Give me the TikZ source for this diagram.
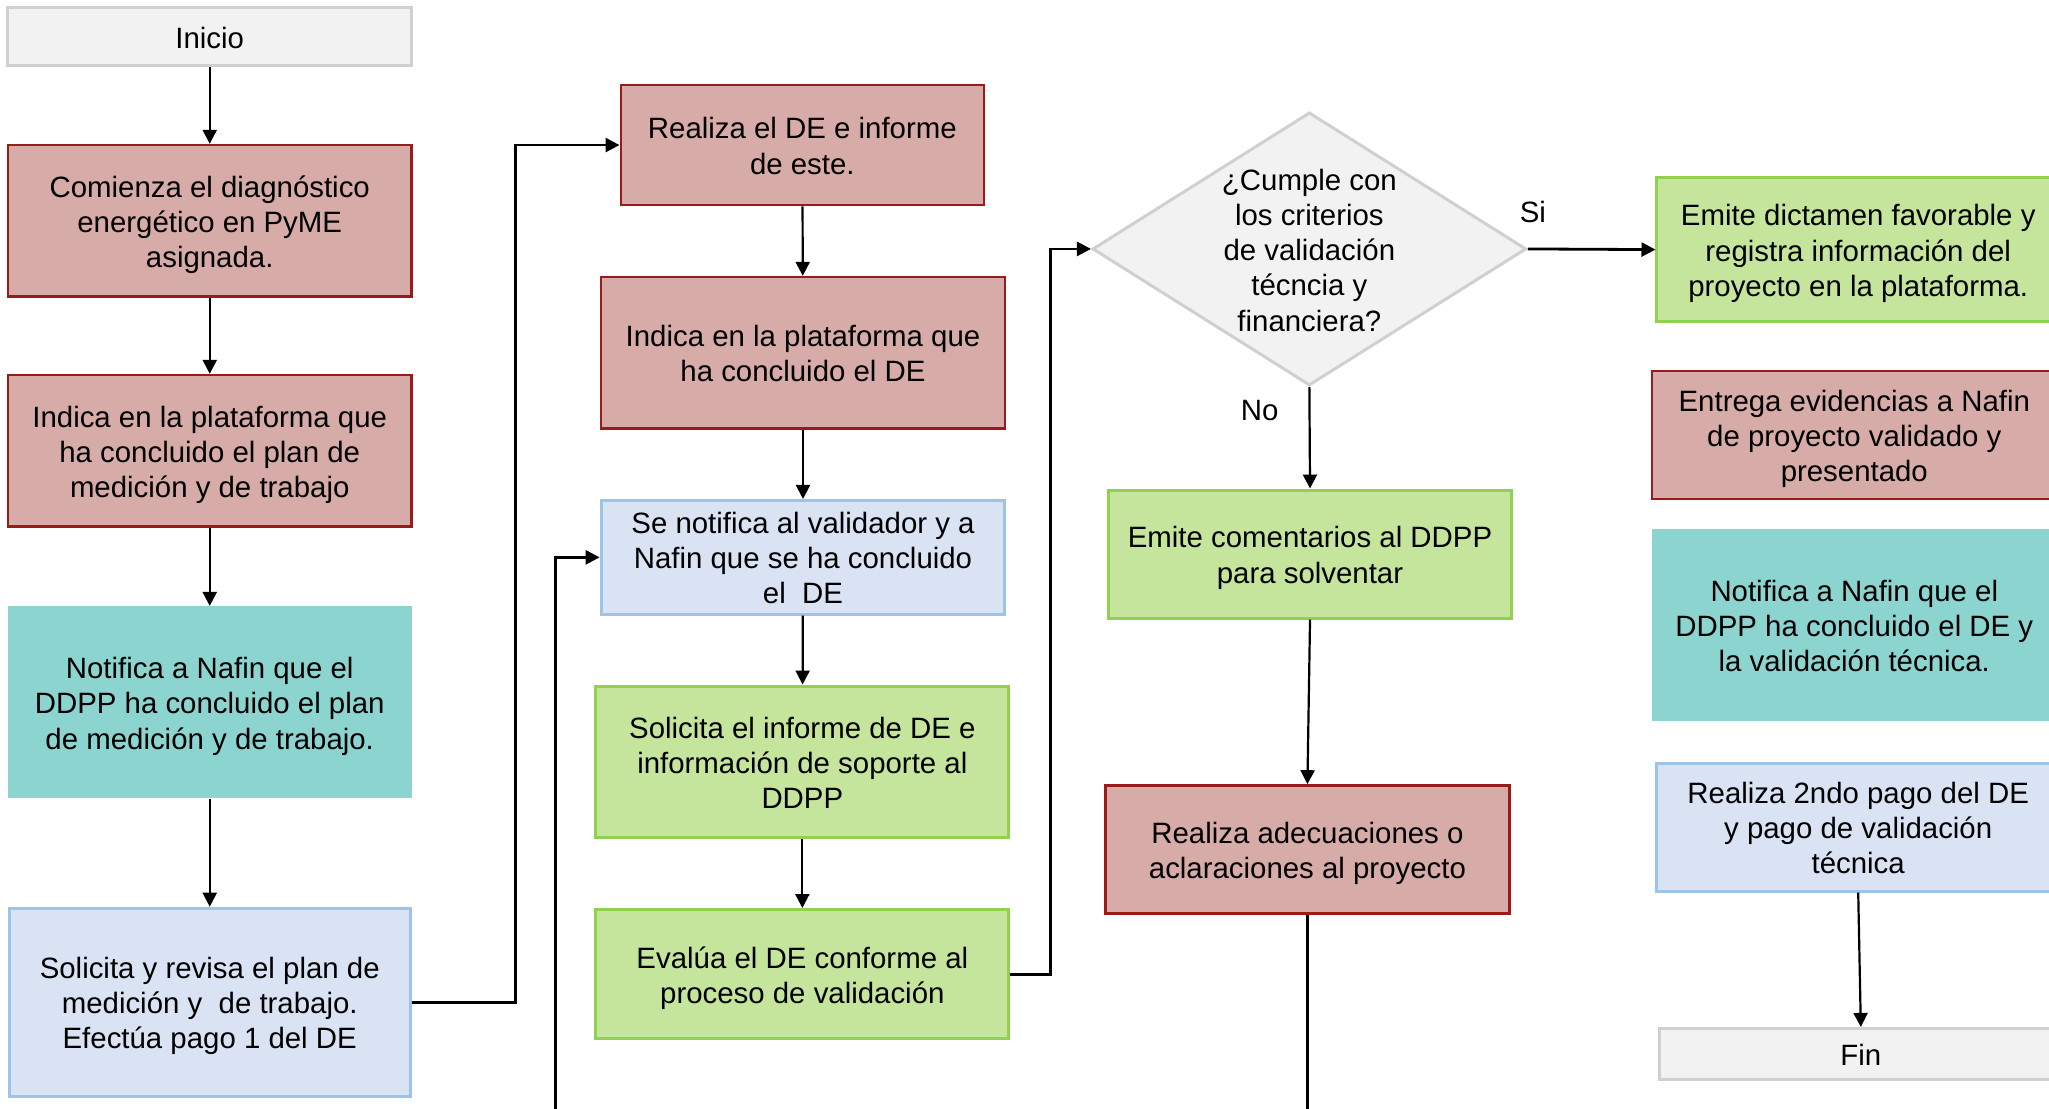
\documentclass[tikz,border=0pt]{standalone}
\usepackage{fontspec}
\setmainfont{Liberation Sans}
\usetikzlibrary{shapes.geometric,arrows.meta,calc}
\definecolor{redfill}{RGB}{214,171,168}
\definecolor{redline}{RGB}{155,27,27}
\definecolor{bluefill}{RGB}{218,227,243}
\definecolor{blueline}{RGB}{157,195,230}
\definecolor{greenfill}{RGB}{197,228,156}
\definecolor{greenline}{RGB}{146,208,80}
\definecolor{tealfill}{RGB}{140,212,207}
\definecolor{greyfill}{RGB}{242,242,242}
\definecolor{greyline}{RGB}{208,208,208}
\newlength\pxu
\setlength\pxu{0.6534pt}
\newcommand\diafont{\fontsize{14.7}{17.6}\selectfont}
\newcommand\boxtext[1]{\raisebox{-2.2pt}[\height][\depth]{\begin{tabular}{@{}c@{}}#1\end{tabular}}}
\tikzset{
  base/.style={rectangle, inner sep=0pt, font=\diafont},
  redbox/.style={base, fill=redfill, draw=redline, line width=1.2pt},
  bluebox/.style={base, fill=bluefill, draw=blueline, line width=1.5pt},
  greenbox/.style={base, fill=greenfill, draw=greenline, line width=1.5pt},
  tealbox/.style={base, fill=tealfill},
  greybox/.style={base, fill=greyfill, draw=greyline, line width=1.5pt},
  arr/.style={line width=1.1pt, -{Triangle[length=7pt,width=7pt]}},
  elbow/.style={line width=1.4pt, -{Triangle[length=7pt,width=7pt]}},
  plainline/.style={line width=1.1pt},
  lbl/.style={font=\diafont, inner sep=0pt}
}
\begin{document}
\begin{tikzpicture}[x=0.6534pt,y=-0.6534pt]
\useasboundingbox (0,0) rectangle (1568,848);
\clip (0,0) rectangle (1568,848);
% left column
\node[greybox, minimum width=309\pxu, minimum height=44\pxu] (inicio) at (160.5,28) {\boxtext{Inicio}};
\node[redbox, minimum width=309\pxu, minimum height=116\pxu] (comienza) at (160.5,169) {\boxtext{Comienza el diagnóstico\\energético en PyME\\asignada.}};
\node[redbox, minimum width=309\pxu, minimum height=116\pxu] (indplan) at (160.5,345) {\boxtext{Indica en la plataforma que\\ha concluido el plan de\\medición y de trabajo}};
\node[tealbox, minimum width=309\pxu, minimum height=147\pxu] (notif1) at (160.5,537.5) {\boxtext{Notifica a Nafin que el\\DDPP ha concluido el plan\\de medición y de trabajo.}};
\node[bluebox, minimum width=307\pxu, minimum height=144\pxu] (solrev) at (160.5,767) {\boxtext{Solicita y revisa el plan de\\medición y~ de trabajo.\\Efectúa pago 1 del DE}};
% second column
\node[redbox, minimum width=278\pxu, minimum height=92\pxu] (realiza) at (614,111) {\boxtext{Realiza el DE e informe\\de este.}};
\node[redbox, minimum width=309\pxu, minimum height=116\pxu] (indde) at (614.5,270) {\boxtext{Indica en la plataforma que\\ha concluido el DE}};
\node[bluebox, minimum width=309\pxu, minimum height=87\pxu] (senot) at (614.5,426.5) {\boxtext{Se notifica al validador y a\\Nafin que se ha concluido\\el~ DE}};
\node[greenbox, minimum width=316\pxu, minimum height=116\pxu] (solinf) at (614,583) {\boxtext{Solicita el informe de DE e\\información de soporte al\\DDPP}};
\node[greenbox, minimum width=316\pxu, minimum height=99\pxu] (evalua) at (614,745.5) {\boxtext{Evalúa el DE conforme al\\proceso de validación}};
% decision column
\node[diamond, fill=greyfill, draw=greyline, line width=1.5pt, inner sep=0pt, minimum width=332\pxu, minimum height=209\pxu] (dia) at (1002,190.5) {};
\node[lbl, align=center] (diatext) at (1002,191.5) {¿Cumple con\\los criterios\\de validación\\técncia y\\financiera?};
\node[greenbox, minimum width=309\pxu, minimum height=98\pxu] (coment) at (1002.5,424) {\boxtext{Emite comentarios al DDPP\\para solventar}};
\node[redbox, minimum width=309\pxu, minimum height=98\pxu] (adec) at (1000.5,650) {\boxtext{Realiza adecuaciones o\\aclaraciones al proyecto}};
% right column
\node[greenbox, minimum width=308\pxu, minimum height=110\pxu] (dictamen) at (1422,191) {\boxtext{Emite dictamen favorable y\\registra información del\\proyecto en la plataforma.}};
\node[redbox, minimum width=310\pxu, minimum height=98\pxu] (entrega) at (1419,333) {\boxtext{Entrega evidencias a Nafin\\de proyecto validado y\\presentado}};
\node[tealbox, minimum width=310\pxu, minimum height=147\pxu] (notif2) at (1419,478.5) {\boxtext{Notifica a Nafin que el\\DDPP ha concluido el DE y\\la validación técnica.}};
\node[bluebox, minimum width=308\pxu, minimum height=98\pxu] (pago2) at (1422,633) {\boxtext{Realiza 2ndo pago del DE\\y pago de validación\\técnica}};
\node[greybox, minimum width=308\pxu, minimum height=39\pxu] (fin) at (1424,806.5) {\boxtext{Fin}};
% labels
\node[lbl] (si) at (1173,162) {Si};
\node[lbl] (no) at (964,314) {No};
% free ends
\coordinate (loopin) at (425,860);
\coordinate (adout) at (1000.5,860);
% connectors
\draw[arr] (inicio) -- (comienza);
\draw[arr] (comienza) -- (indplan);
\draw[arr] (indplan) -- (notif1);
\draw[arr] (notif1) -- (solrev);
\draw[elbow] (solrev.east) -| ($(solrev.east)!0.5!(realiza.west)$) |- (realiza.west);
\draw[arr] (realiza) -- (indde);
\draw[arr] (indde) -- (senot);
\draw[arr] (senot) -- (solinf);
\draw[arr] (solinf) -- (evalua);
\draw[elbow] (evalua.east) -| ($(evalua.east)!0.5!(dia.west)$) |- (dia.west);
\draw[elbow] (loopin) |- (senot.west);
\draw[elbow] (dia.east) -- (dictamen.west);
\draw[arr] (dia.south) -- (coment.north);
\draw[arr] (coment.south) -- (adec.north);
\draw[plainline] (adec.south) -- (adout);
\draw[arr] (pago2.south) -- (fin.north);
\end{tikzpicture}
\end{document}
